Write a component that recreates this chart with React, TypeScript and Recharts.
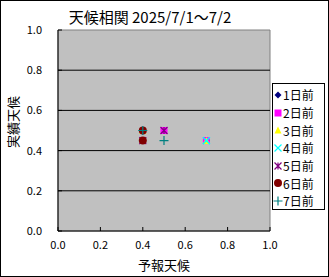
import { ScatterChart, Scatter, XAxis, YAxis, ReferenceArea, ReferenceLine } from "recharts";

const seriesNames = ["1日前", "2日前", "3日前", "4日前", "5日前", "6日前", "7日前"];
const seriesColors = ["#000080", "#FF00FF", "#FFFF00", "#00FFFF", "#800080", "#800000", "#008080"];
const seriesShapes = ["diamond", "square", "triangle", "x", "star", "circle", "plus"];

// predicted (x) / actual (y) pairs for 7/1 and 7/2
const day1 = [{ x: 0.4, y: 0.5 }, { x: 0.7, y: 0.45 }];
const day2 = [{ x: 0.5, y: 0.5 }, { x: 0.7, y: 0.45 }];
const day3 = [{ x: 0.4, y: 0.5 }, { x: 0.7, y: 0.45 }];
const day4 = [{ x: 0.7, y: 0.45 }, { x: 0.7, y: 0.45 }];
const day5 = [{ x: 0.5, y: 0.5 }, { x: 0.4, y: 0.45 }];
const day6 = [{ x: 0.4, y: 0.5 }, { x: 0.4, y: 0.45 }];
const day7 = [{ x: 0.4, y: 0.5 }, { x: 0.5, y: 0.45 }];
const seriesData = [day1, day2, day3, day4, day5, day6, day7];

const ticks = [0, 0.2, 0.4, 0.6, 0.8, 1.0];
const gridLines = [0.2, 0.4, 0.6, 0.8];

const font = "'MS PGothic', 'Noto Sans CJK JP', sans-serif";

function Marker({ kind, color, cx, cy }: { kind: string; color: string; cx: number; cy: number }) {
  const r = 3.5;
  switch (kind) {
    case "diamond":
      return <path d={`M${cx},${cy - r}L${cx + r},${cy}L${cx},${cy + r}L${cx - r},${cy}Z`} fill={color} />;
    case "square":
      return <rect x={cx - r} y={cy - r} width={r * 2} height={r * 2} fill={color} />;
    case "triangle":
      return <path d={`M${cx},${cy - r}L${cx + r},${cy + r}L${cx - r},${cy + r}Z`} fill={color} />;
    case "x":
      return <path d={`M${cx - r},${cy - r}L${cx + r},${cy + r}M${cx + r},${cy - r}L${cx - r},${cy + r}`} stroke={color} strokeWidth={1.2} />;
    case "star":
      return (
        <path
          d={`M${cx - r},${cy - r}L${cx + r},${cy + r}M${cx + r},${cy - r}L${cx - r},${cy + r}M${cx},${cy - r}L${cx},${cy + r}`}
          stroke={color}
          strokeWidth={1.2}
        />
      );
    case "circle":
      return <circle cx={cx} cy={cy} r={r + 0.5} fill={color} />;
    default:
      return <path d={`M${cx - r - 1},${cy}L${cx + r + 1},${cy}M${cx},${cy - r - 1}L${cx},${cy + r + 1}`} stroke={color} strokeWidth={1.2} />;
  }
}

const XTick = (props: any) => {
  const { x, y, payload } = props;
  return (
    <g>
      <line x1={x} y1={y} x2={x} y2={y - 4} stroke="#000" />
      <text x={x} y={y + 18} textAnchor="middle" fontSize={11} fontFamily={font} fill="#000">
        {Number(payload.value).toFixed(1)}
      </text>
    </g>
  );
};

const YTick = (props: any) => {
  const { x, y, payload } = props;
  return (
    <g>
      <line x1={x} y1={y} x2={x + 4} y2={y} stroke="#000" />
      <text x={x - 16} y={y + 4} textAnchor="end" fontSize={11} fontFamily={font} fill="#000">
        {Number(payload.value).toFixed(1)}
      </text>
    </g>
  );
};

const YLabel = () => (
  <text x={18} y={122} transform="rotate(-90 18 122)" textAnchor="middle" fontSize={13} fontFamily={font} fill="#000">
    実績天候
  </text>
);

export default function App() {
  return (
    <div style={{ position: "fixed", left: 0, top: 0, width: 329, height: 277, background: "#fff" }}>
      <ScatterChart width={329} height={277} margin={{ top: 30, right: 59, left: 0, bottom: 0 }}>
        <XAxis
          type="number"
          dataKey="x"
          domain={[0, 1]}
          ticks={ticks}
          tickSize={0}
          tickMargin={0}
          tick={<XTick />}
          height={46}
          stroke="#000"
          label={{ value: "予報天候", position: "insideBottom", offset: 7, fontSize: 13, fontFamily: font, fill: "#000" }}
        />
        <YAxis
          type="number"
          dataKey="y"
          domain={[0, 1]}
          ticks={ticks}
          tickSize={0}
          tickMargin={0}
          tick={<YTick />}
          width={58}
          stroke="#000"
          label={YLabel}
        />
        <ReferenceArea x1={0} x2={1} y1={0} y2={1} fill="#C0C0C0" fillOpacity={1} stroke="#808080" />
        {gridLines.map((v) => (
          <ReferenceLine key={v} y={v} stroke="#000" strokeWidth={1} />
        ))}
        {seriesNames.map((name, i) => (
          <Scatter
            key={name}
            name={name}
            data={seriesData[i]}
            isAnimationActive={false}
            shape={(p: any) => <Marker kind={seriesShapes[i]} color={seriesColors[i]} cx={p.cx} cy={p.cy} />}
          />
        ))}
      </ScatterChart>
      <div
        style={{
          position: "absolute",
          left: 0,
          top: 6,
          width: 300,
          fontFamily: font,
          fontSize: 15,
          textAlign: "center",
        }}
      >
        天候相関 2025/7/1～7/2
      </div>
      <div
        style={{
          position: "absolute",
          left: 272,
          top: 83,
          width: 53,
          height: 127,
          border: "1px solid #000",
          background: "#fff",
          boxSizing: "border-box",
          paddingTop: 2,
        }}
      >
        {seriesNames.map((name, i) => (
          <div key={name} style={{ height: 17.7, display: "flex", alignItems: "center", fontFamily: font, fontSize: 12 }}>
            <svg width={10} height={12}>
              <Marker kind={seriesShapes[i]} color={seriesColors[i]} cx={5} cy={6} />
            </svg>
            <span>{name}</span>
          </div>
        ))}
      </div>
      <div
        style={{
          position: "absolute",
          left: 0,
          top: 0,
          width: 329,
          height: 277,
          border: "1px solid #000",
          boxSizing: "border-box",
          pointerEvents: "none",
        }}
      />
    </div>
  );
}
